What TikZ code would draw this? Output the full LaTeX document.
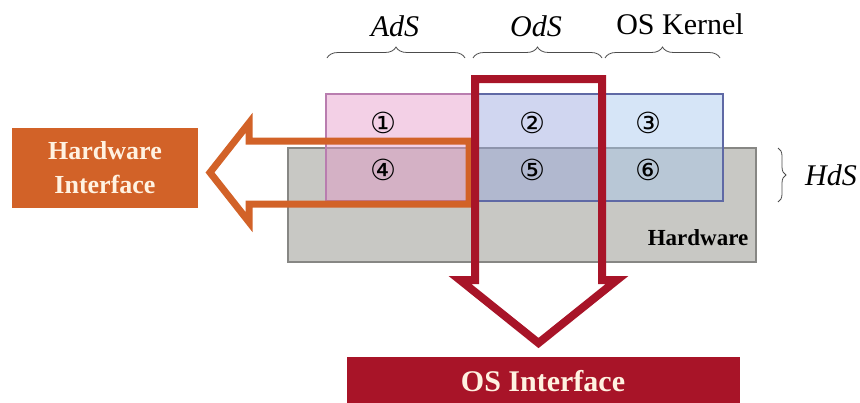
\documentclass[tikz,border=0pt]{standalone}
\usepackage{fontspec}
\setmainfont{Liberation Serif}
\newfontfamily\circfont{DejaVu Sans}
\usetikzlibrary{decorations.pathreplacing}

\definecolor{hwgray}{RGB}{200,200,196}
\definecolor{hwedge}{RGB}{135,135,132}
\definecolor{adspink}{RGB}{228,150,200}
\definecolor{adsedge}{RGB}{185,125,175}
\definecolor{odsblue}{RGB}{150,165,222}
\definecolor{knlblue}{RGB}{165,198,238}
\definecolor{blueedge}{RGB}{95,105,165}
\definecolor{hwiorange}{RGB}{210,98,40}
\definecolor{osired}{RGB}{168,20,40}
\definecolor{cream}{RGB}{255,242,225}

\tikzset{
  lab/.style={font=\fontsize{30}{36}\selectfont, inner sep=0pt},
  num/.style={font=\circfont\fontsize{29}{29}\selectfont, inner sep=0pt},
  brc/.style={decorate, decoration={brace, amplitude=#1}, line width=0.8pt, draw=black!70},
  brc/.default=11pt,
  region/.style={draw=blueedge, line width=1.5pt, fill opacity=0.45, inner sep=0pt,
    anchor=north west, minimum height=107pt},
}

\begin{document}
\begin{tikzpicture}[x=1pt,y=-1pt]
\useasboundingbox (0,0) rectangle (860,402);

% hardware layer
\node[draw=hwedge, fill=hwgray, line width=1.8pt, anchor=north west, inner sep=0pt,
  minimum width=468pt, minimum height=114pt] (hw) at (287,147) {};
\node[font=\fontsize{23}{28}\selectfont\bfseries, inner sep=0pt] (hwl) at (698,238) {Hardware};

% software regions
\node[region, draw=adsedge, fill=adspink, minimum width=148pt] (ads) at (325,93) {};
\node[region, fill=odsblue, minimum width=127pt] (ods) at (473,93) {};
\node[region, fill=knlblue, minimum width=122pt] (knl) at (600,93) {};

\foreach \n/\x/\y in {①/383/123, ②/532/123, ③/648/123, ④/383/170, ⑤/532/170, ⑥/648/170}
  \node[num] (c\x\y) at (\x,\y) {\n};

% braces and labels
\draw[brc] (327,58) -- (465,58);
\draw[brc] (473,58) -- (602,58);
\draw[brc] (605,58) -- (720,58);
\draw[brc=8pt] (778,148) -- (778,202);

\node[lab] (adsl) at (395,26) {\textit{AdS}};
\node[lab] (odsl) at (536,26) {\textit{OdS}};
\node[lab] (knll) at (680,24) {OS Kernel};
\node[lab] (hdsl) at (831,175) {\textit{HdS}};

% hardware interface arrow
\node[fill=hwiorange, text=cream, font=\fontsize{26}{34}\selectfont\bfseries, align=center,
  minimum width=186pt, minimum height=80pt, inner sep=0pt] (hwi) at (105,168) {Hardware\\Interface};
\draw[hwiorange, line width=7pt, line join=miter]
  (469,141) -- (249,141) -- (249,123) -- (210,172.5) -- (249,222) -- (249,204) -- (469,204) -- cycle;

% os interface arrow
\draw[osired, line width=8pt, line join=miter]
  (475,280) -- (475,79) -- (602,79) -- (602,280) -- (617,280) -- (538.5,343) -- (460,280) -- cycle;
\node[fill=osired, text=cream, font=\fontsize{30}{36}\selectfont\bfseries,
  minimum width=393pt, minimum height=48pt, inner sep=0pt] (osi) at (543,381) {OS Interface};

\end{tikzpicture}
\end{document}
